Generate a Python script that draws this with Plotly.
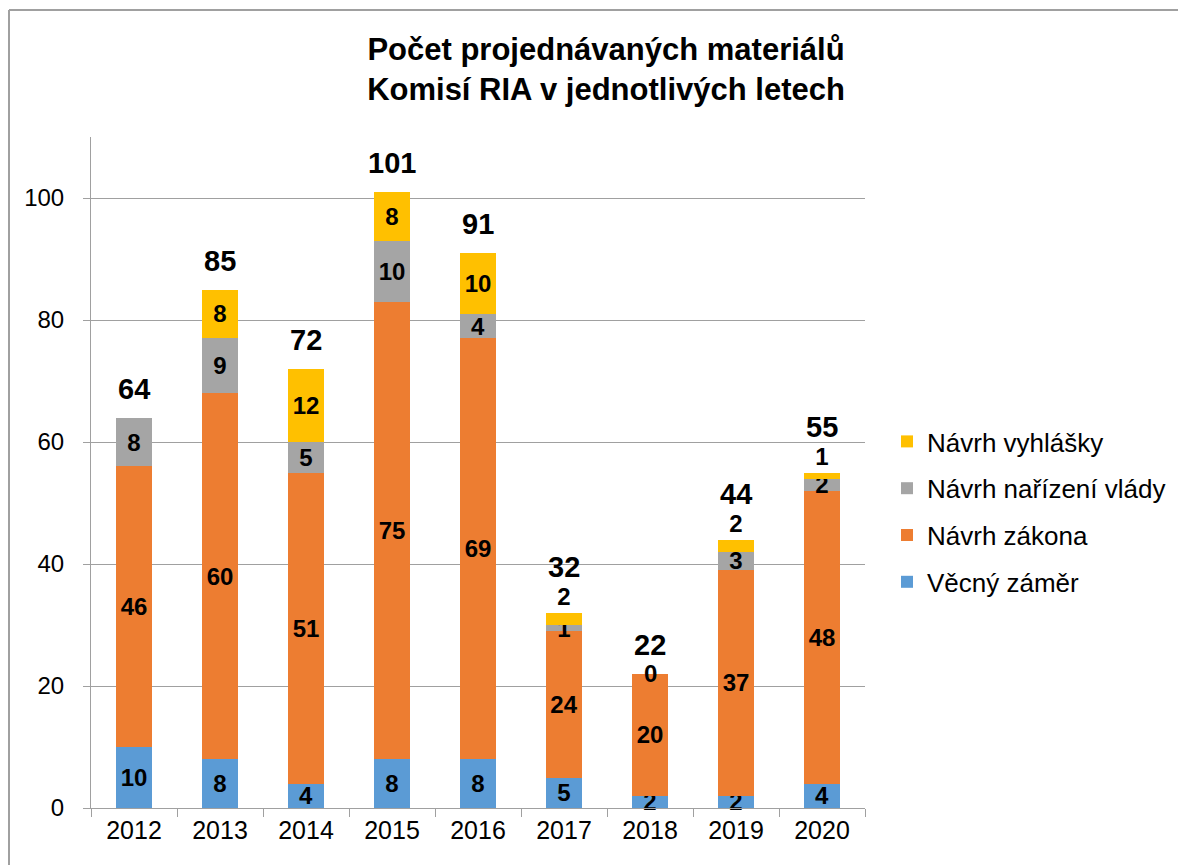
import plotly.graph_objects as go

years = ["2012", "2013", "2014", "2015", "2016", "2017", "2018", "2019", "2020"]
vecny_zamer = [10, 8, 4, 8, 8, 5, 2, 2, 4]
navrh_zakona = [46, 60, 51, 75, 69, 24, 20, 37, 48]
navrh_narizeni = [8, 9, 5, 10, 4, 1, 0, 3, 2]
navrh_vyhlasky = [None, 8, 12, 8, 10, 2, None, 2, 1]
totals = [64, 85, 72, 101, 91, 32, 22, 44, 55]

series = [
    ("Věcný záměr", vecny_zamer, "#5B9BD5", 4),
    ("Návrh zákona", navrh_zakona, "#ED7D31", 3),
    ("Návrh nařízení vlády", navrh_narizeni, "#A5A5A5", 2),
    ("Návrh vyhlášky", navrh_vyhlasky, "#FFC000", 1),
]

FONT = "Liberation Sans, Arial, sans-serif"
LBL = 24
SMALL = 2  # top segments this small get their label just above the bar
fig = go.Figure()
for name, vals, col, rank in series:
    is_top = name == "Návrh vyhlášky"
    positions = ["outside" if (is_top and v is not None and v <= SMALL) else "inside" for v in vals]
    fig.add_trace(go.Bar(
        x=years, y=[v if v is not None else 0 for v in vals], name=name,
        legendgroup=name, legendrank=rank,
        marker=dict(color=col, line=dict(width=0)),
        text=[str(v) if (v is not None and v > 0) else "" for v in vals],
        textposition=positions, insidetextanchor="middle", textangle=0,
        textfont=dict(family=FONT, size=LBL, color="black", weight="bold"),
        outsidetextfont=dict(family=FONT, size=LBL, color="black", weight="bold"),
        cliponaxis=False,
        hoverinfo="skip",
    ))

annotations = []
for i, t in enumerate(totals):
    top = navrh_vyhlasky[i]
    shift = 46 if (top is not None and top <= SMALL) else 29
    annotations.append(dict(x=i, y=t, text=f"<b>{t}</b>", showarrow=False,
                            yanchor="middle", yshift=shift,
                            font=dict(family=FONT, size=29, color="black")))
# zero-valued segment labels
cum = [a + b for a, b in zip(vecny_zamer, navrh_zakona)]
for i, (c, v) in enumerate(zip(cum, navrh_narizeni)):
    if v == 0:
        annotations.append(dict(x=i, y=c, text=f"<b>{v}</b>", showarrow=False,
                                yanchor="middle",
                                font=dict(family=FONT, size=LBL, color="black")))

OFF = 8  # page body margin
W, H = 1186 - OFF, 865 - OFF
L, T = 91 - OFF, 137 - OFF
R = W - (865 - OFF)
B = H - (808 - OFF)
pw, ph = W - L - R, H - T - B

def px_x(p):  # page x -> paper x
    return (p - OFF - L) / pw

def px_y(p):  # page y -> paper y
    return (H - B - (p - OFF)) / ph

fig.update_layout(
    width=W, height=H,
    margin=dict(l=L, r=R, t=T, b=B, autoexpand=False),
    barmode="stack", bargap=0.59,
    paper_bgcolor="white", plot_bgcolor="white",
    font=dict(family=FONT, size=25, color="black"),
    title=dict(text="<b>Počet projednávaných materiálů<br>Komisí RIA v jednotlivých letech</b>",
               x=(606 - OFF) / W, xanchor="center", xref="container",
               y=1 - 52 / H, yanchor="top", yref="container",
               font=dict(family=FONT, size=31, color="black")),
    xaxis=dict(type="category", automargin=False, range=[-0.5, len(years) - 0.5],
               showline=True, linecolor="#A0A0A0", linewidth=1,
               ticks="outside", tickson="boundaries", ticklen=8, tickcolor="#A0A0A0",
               tickfont=dict(size=25), showgrid=False, tickangle=0),
    yaxis=dict(range=[0, 110], tickvals=[0, 20, 40, 60, 80, 100], automargin=False,
               showline=True, linecolor="#A0A0A0", linewidth=1,
               ticks="outside", ticklen=7, tickcolor="#A0A0A0",
               gridcolor="#A0A0A0", gridwidth=1, zeroline=False,
               tickfont=dict(size=24), ticklabelstandoff=14),
    legend=dict(x=px_x(887), xanchor="left", y=px_y(418), yanchor="top",
                traceorder="grouped", font=dict(size=26),
                itemsizing="constant", tracegroupgap=10),
    uniformtext=dict(minsize=LBL, mode="show"),
    showlegend=True,
    annotations=annotations,
    shapes=[
        dict(type="line", xref="paper", yref="paper",
             x0=px_x(9), x1=px_x(9), y0=px_y(10), y1=px_y(900),
             line=dict(color="#A0A0A0", width=2)),
        dict(type="line", xref="paper", yref="paper",
             x0=px_x(9), x1=px_x(1200), y0=px_y(10), y1=px_y(10),
             line=dict(color="#A0A0A0", width=2)),
    ],
)

fig.write_html("out.html")
